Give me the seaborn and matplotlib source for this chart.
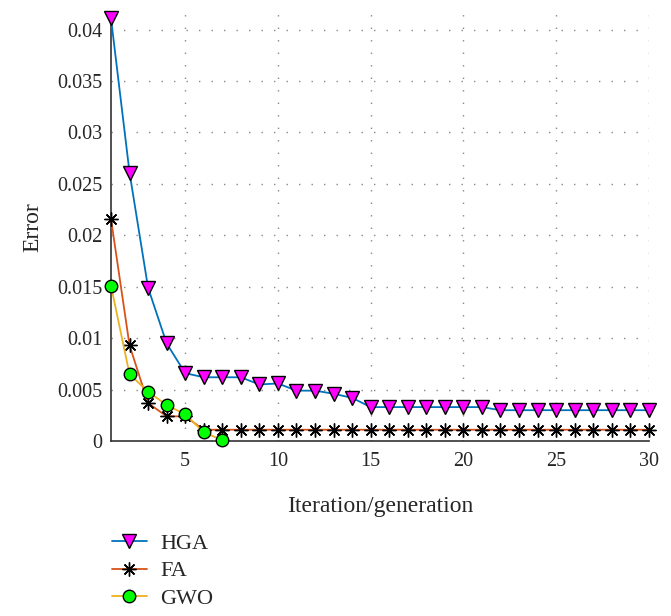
import numpy as np
import pandas as pd
import matplotlib
matplotlib.use("Agg")
import matplotlib.pyplot as plt
import seaborn as sns

iterations = list(range(1, 31))

hga = [0.0411, 0.0261, 0.0149, 0.0095, 0.0066, 0.0062, 0.0062, 0.0062, 0.0055, 0.0056,
       0.0049, 0.0049, 0.0046, 0.0042, 0.0033, 0.0033, 0.0033, 0.0033, 0.0033, 0.0033,
       0.0033, 0.0030, 0.0030, 0.0030, 0.0030, 0.0030, 0.0030, 0.0030, 0.0030, 0.0030]
fa = [0.0216, 0.0093, 0.0037, 0.0024, 0.0024] + [0.0011] * 25
gwo_x = [1, 2, 3, 4, 5, 6, 7]
gwo = [0.0151, 0.0065, 0.0048, 0.0035, 0.0026, 0.00085, 0.0001]

y_ticks = [0, 0.005, 0.01, 0.015, 0.02, 0.025, 0.03, 0.035, 0.04]
y_labels = ["0", "0.005", "0.01", "0.015", "0.02", "0.025", "0.03", "0.035", "0.04"]
x_ticks = [5, 10, 15, 20, 25, 30]

sns.set_style("white")
plt.rcParams["font.family"] = ["Liberation Serif", "DejaVu Serif"]

fig = plt.figure(figsize=(6.71, 6.16), dpi=100)
ax = fig.add_axes([0.1654, 0.284, 0.8016, 0.693])

ax.grid(True, color="#888888", linestyle=(0, (1, 8)), linewidth=1.0)
ax.set_axisbelow(True)

sns.lineplot(x=iterations, y=hga, ax=ax, color="#0072BD", lw=1.3, marker="v",
             markersize=10, markerfacecolor="#FF00FF", markeredgecolor="black",
             markeredgewidth=1.0, label="HGA", zorder=3)
sns.lineplot(x=iterations, y=fa, ax=ax, color="#D95319", lw=1.3, marker=(8, 2, 0),
             markersize=10, markeredgecolor="black", markeredgewidth=1.0,
             label="FA", zorder=3)
sns.lineplot(x=gwo_x, y=gwo, ax=ax, color="#EDB120", lw=1.3, marker="o",
             markersize=9, markerfacecolor="#00FF00", markeredgecolor="black",
             markeredgewidth=1.0, label="GWO", zorder=4)

for line in ax.lines:
    line.set_clip_on(False)

ax.set_xlim(1, 30)
ax.set_ylim(0, 0.0415)
ax.set_xticks(x_ticks)
ax.set_yticks(y_ticks)
ax.set_yticklabels(y_labels)
ax.tick_params(direction="in", length=5, width=1, labelsize=14.5, color="#333333",
               pad=6)
ax.tick_params(axis="x", pad=8)
for s in ["top", "right"]:
    ax.spines[s].set_visible(False)
for s in ["left", "bottom"]:
    ax.spines[s].set_color("#333333")
    ax.spines[s].set_linewidth(1.2)

ax.set_xlabel("Iteration/generation", fontsize=17, labelpad=18)
ax.set_ylabel("Error", fontsize=17, labelpad=10)

handles, labels = ax.get_legend_handles_labels()
ax.get_legend().remove()
fig.legend(handles, labels, loc="upper left", bbox_to_anchor=(0.153, 0.148),
           frameon=False, fontsize=16, handlelength=1.6, handletextpad=0.6,
           labelspacing=0.3, borderaxespad=0)

fig.savefig("out.png", dpi=100)
